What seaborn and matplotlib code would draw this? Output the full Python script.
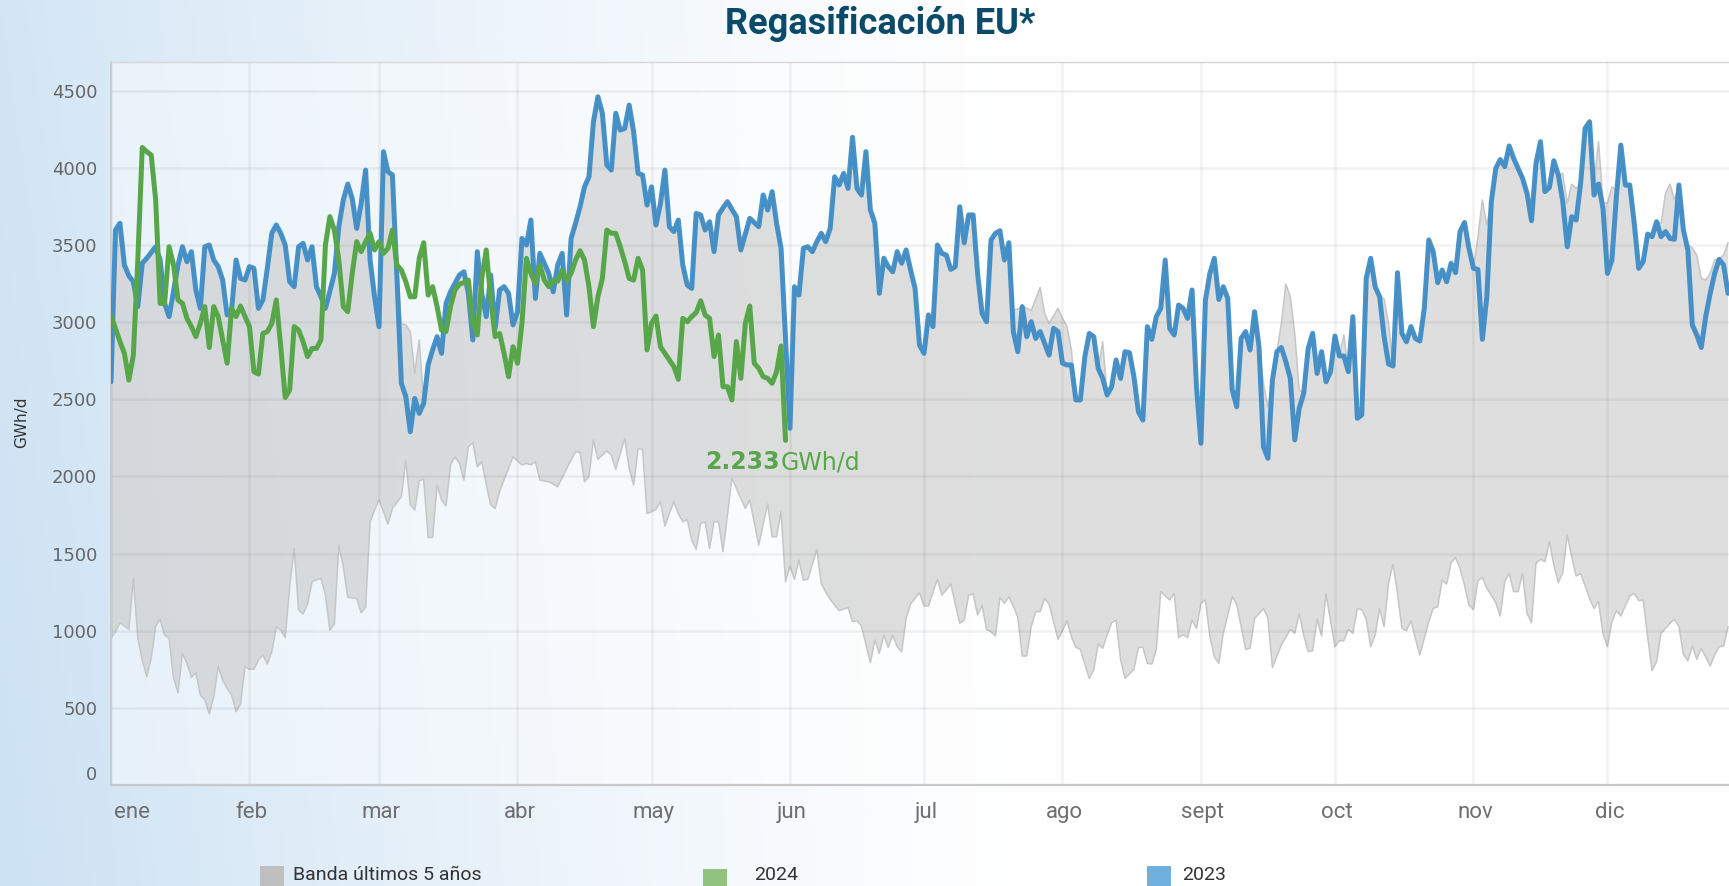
import numpy as np
import pandas as pd
import matplotlib
matplotlib.use("Agg")
import matplotlib.pyplot as plt
import seaborn as sns
from matplotlib.patches import Rectangle
from matplotlib.transforms import ScaledTranslation

# ---------------- data (GWh/d, daily from 1 Jan) ----------------
month_labels = ["ene", "feb", "mar", "abr", "may", "jun", "jul", "ago", "sept", "oct", "nov", "dic"]
y_ticks = [0, 500, 1000, 1500, 2000, 2500, 3000, 3500, 4000, 4500]

values_2023 = [
    2613, 3596, 3640, 3370, 3300, 3261, 3100, 3381, 3413, 3450, 3488, 3402, 3121, 3035, 3200,
    3370, 3488, 3391, 3456, 3208, 3089, 3488, 3499, 3402, 3359, 3272, 3046, 3080, 3402, 3283,
    3272, 3359, 3348, 3089, 3143, 3350, 3575, 3629, 3575, 3499, 3261, 3229, 3488, 3510, 3402,
    3488, 3229, 3164, 3089, 3200, 3315, 3618, 3791, 3894, 3801, 3607, 3768, 3985, 3402, 3164,
    2970, 4104, 3974, 3953, 3300, 2603, 2516, 2289, 2505, 2408, 2473, 2722, 2820, 2905, 2797,
    3121, 3196, 3250, 3305, 3326, 3186, 2884, 3456, 3186, 3035, 3305, 2959, 3208, 3229, 3186,
    2981, 3067, 3542, 3499, 3661, 3153, 3445, 3380, 3315, 3196, 3370, 3445, 3046, 3542, 3640,
    3747, 3876, 3941, 4298, 4460, 4353, 4018, 3985, 4353, 4244, 4255, 4406, 4233, 3963, 3953,
    3758, 3876, 3629, 3768, 3985, 3618, 3586, 3661, 3370, 3240, 3218, 3704, 3694, 3596, 3650,
    3456, 3694, 3740, 3780, 3730, 3683, 3467, 3570, 3672, 3645, 3618, 3823, 3726, 3845, 3640,
    3478, 2900, 2311, 3229, 3175, 3478, 3488, 3456, 3520, 3575, 3521, 3607, 3941, 3888, 3963,
    3866, 4197, 3866, 3823, 4104, 3726, 3640, 3186, 3413, 3359, 3326, 3456, 3381, 3467, 3337,
    3218, 2851, 2797, 3046, 2970, 3499, 3445, 3434, 3341, 3359, 3747, 3514, 3694, 3694, 3315,
    3056, 3002, 3532, 3575, 3592, 3402, 3514, 2938, 2808, 3100, 2905, 3002, 2894, 2938, 2862,
    2786, 2959, 2938, 2733, 2722, 2722, 2495, 2495, 2776, 2926, 2905, 2700, 2635, 2527, 2581,
    2754, 2635, 2808, 2801, 2646, 2419, 2365, 2970, 2888, 3035, 3089, 3402, 2959, 2916, 3110,
    3089, 3024, 3208, 2581, 2214, 3143, 3315, 3413, 3146, 3229, 3153, 2560, 2451, 2894, 2938,
    2819, 3067, 2840, 2192, 2117, 2624, 2808, 2835, 2743, 2635, 2236, 2441, 2538, 2829, 2927,
    2667, 2808, 2613, 2678, 2909, 2780, 2780, 2678, 3035, 2376, 2398, 3283, 3413, 3229, 3164,
    2905, 2728, 2715, 3320, 2926, 2872, 2970, 2894, 2877, 3089, 3532, 3456, 3255, 3337, 3261,
    3381, 3320, 3586, 3645, 3478, 3348, 3341, 2888, 3164, 3780, 3996, 4053, 4007, 4141, 4061,
    3996, 3931, 3834, 3656, 4028, 4169, 3845, 3872, 4045, 3953, 3780, 3488, 3683, 3661, 3899,
    4255, 4298, 3823, 3894, 3737, 3315, 3402, 3812, 4147, 3888, 3888, 3640, 3348, 3391, 3570,
    3553, 3650, 3553, 3586, 3542, 3536, 3888, 3596, 3467, 2981, 2916, 2835, 3035, 3186, 3315,
    3406, 3370, 3186,
]

values_2024 = [
    3035, 2959, 2873, 2797, 2624, 2786, 3402, 4131, 4104, 4082, 3791, 3121, 3121, 3488, 3370,
    3143, 3121, 3024, 2970, 2905, 2991, 3100, 2835, 3100, 3035, 2884, 2733, 3089, 3035, 3104,
    3035, 2970, 2678, 2663, 2926, 2938, 2991, 3143, 2840, 2511, 2560, 2970, 2948, 2873, 2776,
    2829, 2829, 2884, 3499, 3683, 3596, 3402, 3100, 3067, 3315, 3521, 3456, 3520, 3575, 3467,
    3521, 3445, 3478, 3596, 3370, 3337, 3261, 3164, 3164, 3413, 3514, 3175, 3229, 3100, 2948,
    2938, 3100, 3208, 3246, 3255, 3272, 2991, 2916, 3283, 3467, 3153, 2905, 2926, 2797, 2646,
    2840, 2733, 2991, 3413, 3315, 3250, 3370, 3272, 3229, 3272, 3265, 3337, 3268, 3315, 3402,
    3462, 3402, 3229, 2970, 3164, 3283, 3596, 3575, 3575, 3488, 3391, 3283, 3272, 3413, 3337,
    2819, 2991, 3039, 2840, 2797, 2754, 2711, 2629, 3024, 3002, 3035, 3061, 3138, 3046, 3024,
    2776, 2916, 2581, 2581, 2495, 2873, 2635, 2991, 3104, 2733, 2700, 2646, 2635, 2603, 2678,
    2845, 2233,
]

band_high = [
    2613, 3596, 3640, 3370, 3300, 3261, 3100, 3381, 3413, 3450, 3488, 3402, 3121, 3035, 3200,
    3370, 3488, 3391, 3456, 3208, 3089, 3488, 3499, 3402, 3359, 3272, 3046, 3080, 3402, 3283,
    3272, 3359, 3348, 3089, 3143, 3350, 3575, 3629, 3575, 3499, 3261, 3229, 3488, 3510, 3402,
    3488, 3229, 3164, 3089, 3200, 3315, 3618, 3791, 3894, 3801, 3607, 3768, 3985, 3402, 3164,
    2970, 4104, 3974, 3953, 3400, 2990, 2981, 2938, 2668, 2884, 2473, 2722, 2820, 2905, 2797,
    3121, 3196, 3250, 3305, 3326, 3186, 2884, 3456, 3186, 3035, 3305, 2959, 3208, 3229, 3186,
    2981, 3067, 3542, 3499, 3661, 3153, 3445, 3380, 3315, 3196, 3370, 3445, 3046, 3542, 3640,
    3747, 3876, 3941, 4298, 4460, 4353, 4018, 3985, 4353, 4244, 4255, 4406, 4233, 3963, 3953,
    3758, 3876, 3629, 3768, 3985, 3618, 3586, 3661, 3370, 3240, 3218, 3704, 3694, 3596, 3650,
    3456, 3694, 3740, 3780, 3730, 3683, 3467, 3570, 3672, 3645, 3618, 3823, 3726, 3845, 3640,
    3478, 2900, 2311, 3229, 3175, 3478, 3488, 3456, 3520, 3575, 3521, 3607, 3941, 3888, 3963,
    3866, 4197, 3866, 3823, 4104, 3726, 3640, 3186, 3413, 3359, 3326, 3456, 3381, 3467, 3337,
    3218, 2851, 2797, 3046, 2970, 3499, 3445, 3434, 3341, 3359, 3747, 3514, 3694, 3694, 3315,
    3056, 3002, 3532, 3575, 3592, 3402, 3514, 3080, 3085, 3100, 3090, 3074, 3150, 3224, 3056,
    2991, 3040, 3089, 3024, 2972, 2819, 2495, 2495, 2776, 2926, 2905, 2700, 2873, 2527, 2581,
    2754, 2635, 2808, 2801, 2646, 2419, 2365, 2970, 2888, 3035, 3089, 3402, 2959, 2916, 3110,
    3089, 3024, 3208, 2581, 2214, 3143, 3315, 3413, 3146, 3229, 3153, 2560, 2451, 2894, 2938,
    2819, 3067, 2840, 2600, 2450, 2624, 2808, 2991, 3246, 3164, 2926, 2560, 2538, 2829, 2927,
    2667, 2808, 2613, 2678, 2909, 2780, 2916, 2678, 3035, 2376, 2398, 3283, 3413, 3229, 3164,
    3150, 2990, 2715, 3320, 2926, 2872, 2970, 2894, 2877, 3089, 3532, 3456, 3255, 3337, 3261,
    3381, 3320, 3586, 3645, 3478, 3348, 3550, 3791, 3629, 3780, 3996, 4053, 4007, 4141, 4061,
    3996, 3931, 3834, 3656, 4028, 4169, 3845, 3872, 4045, 3953, 3963, 3768, 3894, 3866, 3899,
    4255, 4298, 3900, 4169, 3780, 3768, 3876, 3855, 4147, 3888, 3888, 3640, 3348, 3391, 3570,
    3553, 3650, 3640, 3834, 3894, 3791, 3888, 3596, 3500, 3480, 3434, 3283, 3272, 3315, 3402,
    3410, 3434, 3514,
]

band_low = [
    951, 993, 1052, 1030, 1009, 1339, 951, 810, 702, 821, 1030, 1074, 972, 951, 691,
    598, 853, 788, 697, 728, 583, 551, 460, 572, 767, 680, 627, 583, 475, 525,
    767, 750, 750, 810, 842, 784, 864, 1026, 1004, 956, 1285, 1533, 1134, 1108, 1173,
    1317, 1330, 1339, 1231, 1004, 1043, 1555, 1415, 1216, 1212, 1209, 1116, 1151, 1706, 1780,
    1850, 1770, 1691, 1792, 1830, 1868, 2106, 1814, 1782, 1972, 1981, 1604, 1604, 1944, 1847,
    1808, 2074, 2127, 2084, 1976, 2192, 2218, 2063, 2095, 1950, 1814, 1792, 1901, 1980, 2051,
    2127, 2100, 2074, 2084, 2074, 2095, 1976, 1970, 1965, 1950, 1933, 1990, 2050, 2106, 2160,
    2154, 1965, 1998, 2236, 2110, 2138, 2165, 2138, 2045, 2148, 2246, 2051, 1944, 2181, 2174,
    1759, 1771, 1786, 1836, 1678, 1759, 1836, 1759, 1706, 1720, 1588, 1527, 1695, 1706, 1533,
    1706, 1706, 1512, 1750, 1987, 1922, 1858, 1792, 1847, 1700, 1555, 1690, 1821, 1609, 1609,
    1771, 1317, 1419, 1333, 1458, 1328, 1333, 1430, 1527, 1306, 1250, 1203, 1165, 1130, 1140,
    1150, 1058, 1065, 1030, 910, 793, 940, 853, 972, 892, 972, 896, 864, 1079, 1173,
    1210, 1246, 1160, 1160, 1250, 1333, 1231, 1265, 1302, 1173, 1047, 1069, 1231, 1238, 1102,
    1166, 1009, 993, 966, 1216, 1177, 1220, 1160, 1087, 836, 836, 1026, 1123, 1123, 1209,
    1173, 1060, 944, 1000, 1065, 961, 892, 879, 785, 691, 745, 914, 886, 972, 1052,
    1069, 814, 691, 720, 750, 892, 892, 788, 784, 875, 1253, 1225, 1199, 1242, 956,
    972, 956, 1069, 1015, 1177, 1199, 961, 831, 788, 983, 1100, 1220, 1173, 1026, 879,
    886, 1079, 1110, 1144, 1079, 762, 835, 907, 956, 1009, 983, 1112, 972, 864, 870,
    1074, 966, 1238, 1069, 896, 935, 935, 1009, 983, 1144, 1137, 1074, 896, 972, 1144,
    1026, 1311, 1432, 1241, 1015, 1000, 1065, 950, 842, 950, 1058, 1144, 1155, 1328, 1302,
    1440, 1474, 1403, 1296, 1166, 1137, 1324, 1346, 1274, 1230, 1181, 1095, 1317, 1371, 1253,
    1253, 1371, 1112, 1052, 1436, 1462, 1447, 1577, 1426, 1311, 1376, 1620, 1480, 1354, 1371,
    1290, 1209, 1144, 1188, 983, 896, 1058, 1130, 1095, 1160, 1225, 1242, 1194, 1199, 961,
    741, 799, 983, 1015, 1047, 1074, 1026, 849, 805, 901, 814, 886, 830, 771, 842,
    896, 901, 1026,
]

last_label_value = "2.233"
last_label_unit = "GWh/d"

# ---------------- build frames ----------------
start = pd.Timestamp("2024-01-01")
df23 = pd.DataFrame({"day": np.arange(len(values_2023)), "v": values_2023})
df24 = pd.DataFrame({"day": np.arange(len(values_2024)), "v": values_2024})
dfb = pd.DataFrame({"day": np.arange(len(band_high)), "hi": band_high, "lo": band_low})
month_starts = pd.date_range(start, periods=12, freq="MS")
month_days = [(m - start).days for m in month_starts]

# ---------------- style ----------------
sns.set_theme(style="white")
plt.rcParams["font.family"] = ["DejaVu Sans"]
COND = ["Roboto", "DejaVu Sans"]

W, H = 1729, 886
fig = plt.figure(figsize=(W / 100, H / 100), dpi=100)

# background gradient
bg = fig.add_axes([0, 0, 1, 1], zorder=-10)
xs = np.linspace(0, 1, 500)
ys = np.linspace(0, 1, 120)
X, Y = np.meshgrid(xs, ys)
w = np.clip(1 - X / 0.62, 0, 1) ** 1.4 * (0.85 + 0.15 * (1 - Y))
tint = np.array([0.80, 0.885, 0.955])
img = 1 - w[..., None] * (1 - tint)
bg.imshow(img, aspect="auto", extent=[0, 1, 0, 1], origin="lower")
bg.axis("off")

L, R, T, B = 111, 1729, 62, 785
ax = fig.add_axes([L / W, 1 - B / H, (R - L) / W, (B - T) / H])
ax.set_facecolor((1, 1, 1, 0.45))

# band
ax.fill(np.r_[dfb["day"], dfb["day"][::-1]], np.r_[dfb["hi"], dfb["lo"][::-1]],
        color="#c4c4c4", alpha=0.55, lw=0, zorder=1)
ax.plot(dfb["day"], dfb["lo"], color="#c6c6c6", lw=1.1, zorder=1.2)
ax.plot(dfb["day"], dfb["hi"], color="#c6c6c6", lw=1.1, zorder=1.2)

# lines
sns.lineplot(data=df23, x="day", y="v", ax=ax, color="#3a8ac5", lw=3.6, alpha=0.92, zorder=3)
sns.lineplot(data=df24, x="day", y="v", ax=ax, color="#58a64a", lw=3.6, zorder=4)

ax.set_xlim(0, (R - L) / 4.467)
ax.set_ylim(0, (B - T) / 0.15432)

# grid
ax.set_axisbelow("line")
ax.grid(True, color="black", alpha=0.05, lw=1.8)

ax.spines["right"].set_visible(False)
ax.spines["left"].set_color("#c8c8c8")
ax.spines["left"].set_linewidth(1.2)
ax.spines["bottom"].set_color("#c8c8c8")
ax.spines["bottom"].set_linewidth(1.6)
ax.spines["top"].set_color("#d6d6d6")
ax.spines["top"].set_linewidth(1.0)

ax.set_yticks(y_ticks)
ax.set_yticklabels([str(v) for v in y_ticks])
ax.tick_params(axis="y", length=0, pad=10, labelsize=13, labelcolor="#666666")
ax.set_xticks(month_days)
ax.set_xticklabels(month_labels)
ax.tick_params(axis="x", length=0, pad=12, labelsize=16, labelcolor="#6f6f6f")
for i, lab in enumerate(ax.get_xticklabels()):
    lab.set_family(COND)
    if i == 0:
        lab.set_ha("left")
        lab.set_transform(lab.get_transform() + ScaledTranslation(3 / 100, 0, fig.dpi_scale_trans))
    else:
        lab.set_ha("center")
        lab.set_transform(lab.get_transform() + ScaledTranslation(2 / 100, 0, fig.dpi_scale_trans))
zl = ax.get_yticklabels()[0]
zl.set_transform(zl.get_transform() + ScaledTranslation(0, 12 / 100, fig.dpi_scale_trans))
ax.set_xlabel("")
ax.set_ylabel("")

# y label
fig.text(22 / W, 1 - 422 / H, "GWh/d", rotation=90, ha="center", va="center",
         fontsize=11, color="#333333")

# title
fig.text(880 / W, 1 - 24 / H, "Regasificación EU*", ha="center", va="center",
         fontsize=26, fontweight="bold", color="#0b4a69", family=COND)

# last value annotation
lx, ly = df24["day"].iloc[-1], df24["v"].iloc[-1]
t1 = ax.annotate(last_label_value, xy=(lx, ly), xytext=(-80, -22), textcoords="offset pixels",
                 ha="left", va="center", fontsize=17, fontweight="bold", color="#58a64a", zorder=6)
ax.annotate(last_label_unit, xy=(1, 0.5), xycoords=t1, xytext=(0, 0), textcoords="offset pixels",
            ha="left", va="center", fontsize=17, color="#58a64a", zorder=6)

# legend
legend_items = [("Banda últimos 5 años", "#bfbfbf", 260, 866, 293),
                ("2024", "#91c37f", 703, 869, 754),
                ("2023", "#6fb0de", 1147, 866, 1182)]
for text, col, x0, y0, tx in legend_items:
    fig.add_artist(Rectangle((x0 / W, 1 - (y0 + 40) / H), 24 / W, 40 / H,
                             transform=fig.transFigure, color=col, lw=0))
    fig.text(tx / W, 1 - 875 / H, text, ha="left", va="center", fontsize=14,
             color="#333333", family=COND)

fig.savefig("out.png", dpi=100)
